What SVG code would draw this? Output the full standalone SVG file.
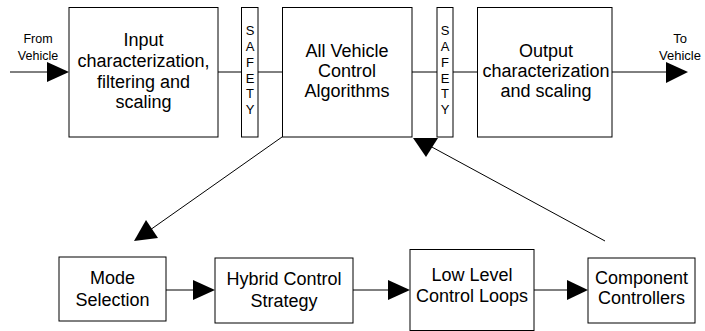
<svg xmlns="http://www.w3.org/2000/svg" width="705" height="331" viewBox="0 0 705 331">
<style>
.box{fill:#fff;stroke:#000;stroke-width:1}
.ln{stroke:#000;stroke-width:1;fill:none}
.ah{fill:#000;stroke:none}
text{font-family:"Liberation Sans",Arial,sans-serif;fill:#000}
.t{font-size:18px;text-anchor:middle}
.s{font-size:13px;text-anchor:middle}
.v{font-size:12.5px;text-anchor:middle}
</style>
<rect width="705" height="331" fill="#fff"/>
<g id="connectors">
<line class="ln" x1="10" y1="72" x2="50" y2="72"/>
<polygon class="ah" points="47,62 69,72 47,82"/>
<line class="ln" x1="218" y1="72" x2="241" y2="72"/>
<line class="ln" x1="258" y1="72" x2="282" y2="72"/>
<line class="ln" x1="412" y1="72" x2="437" y2="72"/>
<line class="ln" x1="453" y1="72" x2="477" y2="72"/>
<line class="ln" x1="612" y1="72" x2="670" y2="72"/>
<polygon class="ah" points="666,62 688,72 666,83"/>
<line class="ln" x1="282" y1="137" x2="150" y2="230"/>
<polygon class="ah" points="134,241 146,220 158,238"/>
<line class="ln" x1="605" y1="241" x2="430" y2="146"/>
<polygon class="ah" points="413,138 438,138 426,157"/>
<line class="ln" x1="166" y1="290" x2="196" y2="290"/>
<polygon class="ah" points="193,280 215,290 193,300"/>
<line class="ln" x1="353" y1="290" x2="391" y2="290"/>
<polygon class="ah" points="388,280 410,290 388,300"/>
<line class="ln" x1="534" y1="290" x2="570" y2="290"/>
<polygon class="ah" points="567,280 588,290 567,300"/>
</g>
<g id="from-vehicle">
<text class="v" x="38" y="43">From</text>
<text class="v" x="38" y="59.5">Vehicle</text>
</g>
<g id="to-vehicle">
<text class="v" x="680" y="43" style="font-size:13px">To</text>
<text class="v" x="680" y="59.5" style="font-size:13px">Vehicle</text>
</g>
<g id="input">
<rect class="box" x="69" y="7.5" width="149" height="129.5"/>
<text class="t" x="143.5" y="46">Input</text>
<text class="t" x="143.5" y="67">characterization,</text>
<text class="t" x="143.5" y="87.5">filtering and</text>
<text class="t" x="143.5" y="108">scaling</text>
</g>
<g id="safety1">
<rect class="box" x="241.5" y="7.5" width="16.5" height="129.5"/>
<text class="s" x="250" y="35">S</text>
<text class="s" x="250" y="51">A</text>
<text class="s" x="250" y="67">F</text>
<text class="s" x="250" y="82.5">E</text>
<text class="s" x="250" y="98">T</text>
<text class="s" x="250" y="113.5">Y</text>
</g>
<g id="algorithms">
<rect class="box" x="282.5" y="7.5" width="129.5" height="129.5"/>
<text class="t" x="347" y="56.5">All Vehicle</text>
<text class="t" x="347" y="76.5">Control</text>
<text class="t" x="347" y="96.5">Algorithms</text>
</g>
<g id="safety2">
<rect class="box" x="437" y="7.5" width="16" height="129.5"/>
<text class="s" x="445" y="35">S</text>
<text class="s" x="445" y="51">A</text>
<text class="s" x="445" y="67">F</text>
<text class="s" x="445" y="82.5">E</text>
<text class="s" x="445" y="98">T</text>
<text class="s" x="445" y="113.5">Y</text>
</g>
<g id="output">
<rect class="box" x="477.5" y="7.5" width="134.5" height="129.5"/>
<text class="t" x="546" y="57">Output</text>
<text class="t" x="546" y="76.5">characterization</text>
<text class="t" x="546" y="96.5">and scaling</text>
</g>
<g id="mode-selection">
<rect class="box" x="59" y="257" width="107" height="64"/>
<text class="t" x="112.5" y="283.5">Mode</text>
<text class="t" x="112.5" y="305.5">Selection</text>
</g>
<g id="hybrid">
<rect class="box" x="215" y="258" width="138" height="65"/>
<text class="t" x="284" y="285">Hybrid Control</text>
<text class="t" x="284" y="306.5">Strategy</text>
</g>
<g id="low-level">
<rect class="box" x="410" y="249.5" width="124" height="81"/>
<text class="t" x="472" y="280.5">Low Level</text>
<text class="t" x="472" y="301.5">Control Loops</text>
</g>
<g id="component">
<rect class="box" x="588" y="258" width="107" height="65"/>
<text class="t" x="641.5" y="283.5">Component</text>
<text class="t" x="641.5" y="304">Controllers</text>
</g>
</svg>
